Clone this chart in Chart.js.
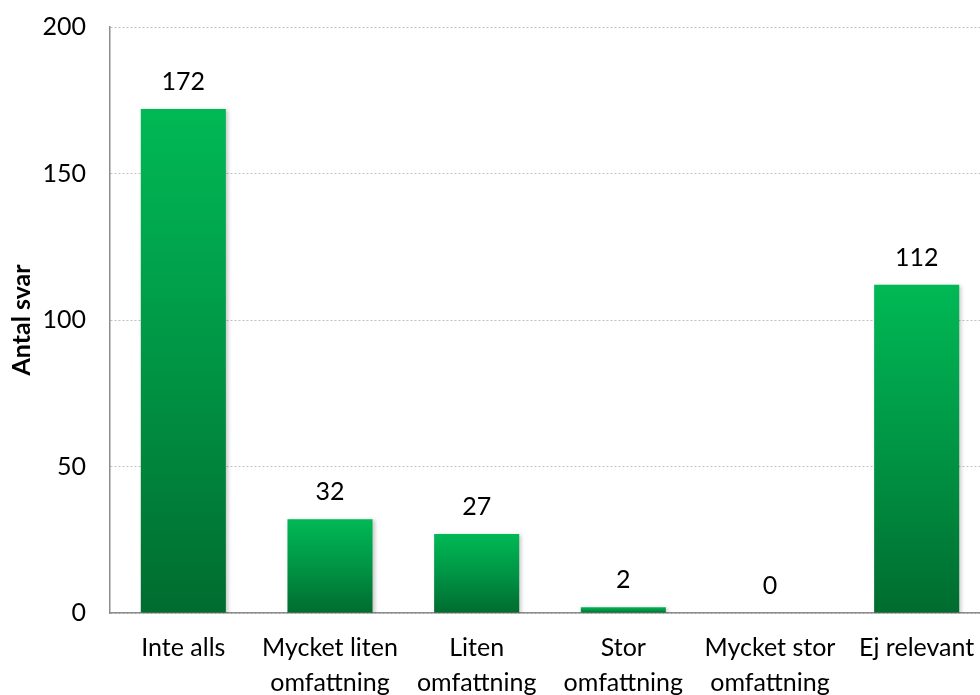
<!DOCTYPE html>
<html>
<head>
<meta charset="utf-8">
<script src="https://cdn.jsdelivr.net/npm/chart.js@4/dist/chart.umd.min.js"></script>
<style>
  html, body { margin: 0; padding: 0; background: #fff; overflow: hidden; }
  #wrap { width: 980px; height: 695px; overflow: hidden; }
  canvas { display: block; }
</style>
</head>
<body>
<div id="wrap"><canvas id="c" width="990" height="695"></canvas></div>
<script>
const categories = [
  ['Inte alls'],
  ['Mycket liten', 'omfattning'],
  ['Liten', 'omfattning'],
  ['Stor', 'omfattning'],
  ['Mycket stor', 'omfattning'],
  ['Ej relevant']
];
const answers = [172, 32, 27, 2, 0, 112];
const yTicks = [0, 50, 100, 150, 200];

const FONT = 'Lato, "Open Sans", sans-serif';
const FS = 25;

// Vertical gradient per bar: bright green at the top, dark green at the base
function barFill(ctx) {
  const chart = ctx.chart;
  const ys = chart.scales && chart.scales.y;
  if (!ys || ctx.type !== 'data') return '#00b955';
  const top = ys.getPixelForValue(ctx.raw);
  const base = ys.getPixelForValue(0);
  if (!isFinite(top) || !isFinite(base) || base - top < 1) return '#00b955';
  const g = chart.ctx.createLinearGradient(0, top, 0, base);
  g.addColorStop(0, '#00b955');
  g.addColorStop(0.5, '#009545');
  g.addColorStop(1, '#006c2f');
  return g;
}

const shadowPlugin = {
  id: 'barShadow',
  beforeDatasetDraw(chart) {
    const c = chart.ctx;
    c.save();
    c.shadowColor = 'rgba(0,0,0,0.22)';
    c.shadowBlur = 4;
    c.shadowOffsetX = 2;
    c.shadowOffsetY = 1;
  },
  afterDatasetDraw(chart) {
    chart.ctx.restore();
  }
};

const valueLabels = {
  id: 'valueLabels',
  afterDatasetsDraw(chart) {
    const c = chart.ctx;
    const meta = chart.getDatasetMeta(0);
    c.save();
    c.font = FS + 'px ' + FONT;
    c.fillStyle = '#000';
    c.textAlign = 'center';
    c.textBaseline = 'middle';
    meta.data.forEach((bar, i) => {
      c.fillText(String(answers[i]), bar.x, bar.y - 27);
    });
    c.restore();
  }
};

new Chart(document.getElementById('c'), {
  type: 'bar',
  data: {
    labels: categories,
    datasets: [{
      data: answers,
      backgroundColor: barFill,
      borderWidth: 0,
      barPercentage: 0.58,
      categoryPercentage: 1.0
    }]
  },
  options: {
    responsive: false,
    animation: false,
    events: [],
    layout: { padding: { top: 27, left: 0, right: 0, bottom: 0 } },
    plugins: {
      legend: { display: false },
      tooltip: { enabled: false }
    },
    scales: {
      x: {
        grid: { display: false, drawTicks: false },
        border: { display: true, color: '#8c8c8c', width: 1.5 },
        ticks: {
          color: '#000',
          font: { family: FONT, size: FS, lineHeight: 1.4 },
          padding: 17,
          maxRotation: 0,
          autoSkip: false
        },
        afterFit(scale) {
          scale.height = 82;
          scale.paddingLeft = 0;
          scale.paddingRight = 0;
        }
      },
      y: {
        min: 0,
        max: 200,
        afterBuildTicks(scale) { scale.ticks = yTicks.map(v => ({ value: v })); },
        grid: {
          color: '#bfbfbf',
          lineWidth: 1,
          drawTicks: false
        },
        border: { display: true, color: '#8c8c8c', width: 1.5, dash: [2, 2] },
        ticks: {
          color: '#000',
          font: { family: FONT, size: FS },
          padding: 24
        },
        title: {
          display: true,
          text: 'Antal svar',
          color: '#000',
          font: { family: FONT, size: 25, weight: 'bold' },
          padding: { top: 7, bottom: 0 }
        },
        afterFit(scale) {
          scale.width = 110;
          scale.paddingTop = 0;
          scale.paddingBottom = 0;
        }
      }
    }
  },
  plugins: [shadowPlugin, valueLabels]
});
</script>
</body>
</html>
